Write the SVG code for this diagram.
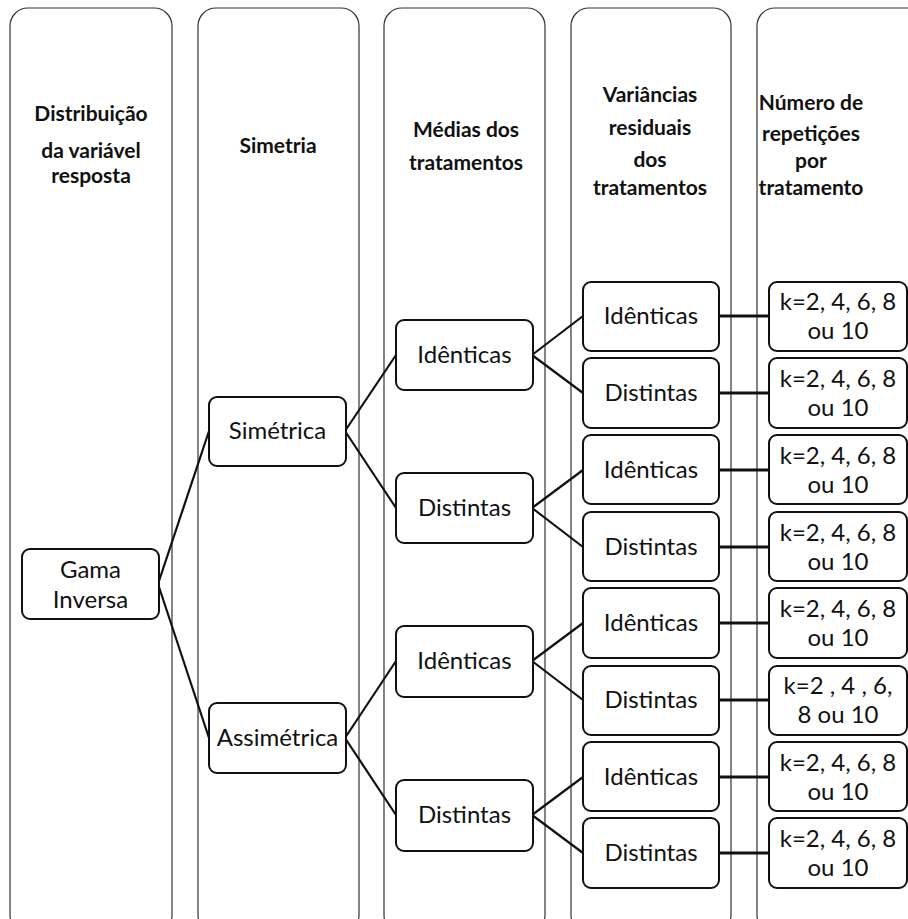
<svg xmlns="http://www.w3.org/2000/svg" width="908" height="919" viewBox="0 0 908 919">
<style>
.col{fill:#fff;stroke:#333;stroke-width:1.2}
.box{fill:#fff;stroke:#111;stroke-width:2}
.t{font-family:Lato,"Liberation Sans",sans-serif;font-size:24px;fill:#111;text-anchor:middle}
.h{font-family:Lato,"Liberation Sans",sans-serif;font-size:21px;font-weight:bold;fill:#111;text-anchor:middle}
.c{stroke:#111;stroke-width:2.2;fill:none}
.k{stroke:#111;stroke-width:3.2;fill:none}
</style>
<rect width="908" height="919" fill="#fff"/>
<g id="columns">
<rect class="col" x="10" y="8" width="162" height="925" rx="18"/>
<rect class="col" x="198" y="8" width="161" height="925" rx="18"/>
<rect class="col" x="384" y="8" width="161" height="925" rx="18"/>
<rect class="col" x="571" y="8" width="160" height="925" rx="18"/>
<rect class="col" x="757" y="8" width="170" height="925" rx="18"/>
</g>
<g id="headers">
<text class="h" x="91" y="121">Distribuição</text>
<text class="h" x="91" y="158">da variável</text>
<text class="h" x="91" y="183">resposta</text>
<text class="h" x="278" y="153">Simetria</text>
<text class="h" x="466" y="137">Médias dos</text>
<text class="h" x="466" y="170">tratamentos</text>
<text class="h" x="650" y="102">Variâncias</text>
<text class="h" x="650" y="135">residuais</text>
<text class="h" x="650" y="167">dos</text>
<text class="h" x="650" y="195">tratamentos</text>
<text class="h" x="811" y="110">Número de</text>
<text class="h" x="811" y="141">repetições</text>
<text class="h" x="811" y="168">por</text>
<text class="h" x="811" y="195">tratamento</text>
</g>
<g id="connectors">
<line class="c" x1="158" y1="584" x2="209" y2="431"/>
<line class="c" x1="158" y1="584" x2="209" y2="738"/>
<line class="c" x1="345" y1="431" x2="396" y2="355"/>
<line class="c" x1="345" y1="431" x2="396" y2="508"/>
<line class="c" x1="345" y1="738" x2="396" y2="661"/>
<line class="c" x1="345" y1="738" x2="396" y2="815"/>
<line class="c" x1="532" y1="355" x2="583" y2="316"/>
<line class="c" x1="532" y1="355" x2="583" y2="393"/>
<line class="c" x1="532" y1="508" x2="583" y2="470"/>
<line class="c" x1="532" y1="508" x2="583" y2="547"/>
<line class="c" x1="532" y1="661" x2="583" y2="623"/>
<line class="c" x1="532" y1="661" x2="583" y2="700"/>
<line class="c" x1="532" y1="815" x2="583" y2="777"/>
<line class="c" x1="532" y1="815" x2="583" y2="853"/>
<line class="k" x1="719" y1="316" x2="769" y2="316"/>
<line class="k" x1="719" y1="393" x2="769" y2="393"/>
<line class="k" x1="719" y1="470" x2="769" y2="470"/>
<line class="k" x1="719" y1="547" x2="769" y2="547"/>
<line class="k" x1="719" y1="623" x2="769" y2="623"/>
<line class="k" x1="719" y1="700" x2="769" y2="700"/>
<line class="k" x1="719" y1="777" x2="769" y2="777"/>
<line class="k" x1="719" y1="853" x2="769" y2="853"/>
</g>
<g id="n-gama"><rect class="box" x="22" y="549" width="137" height="70" rx="8"/><text class="t" x="90.5" y="578">Gama</text><text class="t" x="90.5" y="608">Inversa</text></g>
<g id="n-sim"><rect class="box" x="209" y="397" width="137" height="69" rx="8"/><text class="t" x="277.5" y="439">Simétrica</text></g>
<g id="n-assim"><rect class="box" x="209" y="703" width="137" height="70" rx="8"/><text class="t" x="277.5" y="746">Assimétrica</text></g>
<g id="n-m1"><rect class="box" x="396" y="320" width="137" height="70" rx="8"/><text class="t" x="464.5" y="363">Idênticas</text></g>
<g id="n-m2"><rect class="box" x="396" y="473" width="137" height="70" rx="8"/><text class="t" x="464.5" y="516">Distintas</text></g>
<g id="n-m3"><rect class="box" x="396" y="626" width="137" height="71" rx="8"/><text class="t" x="464.5" y="669">Idênticas</text></g>
<g id="n-m4"><rect class="box" x="396" y="780" width="137" height="71" rx="8"/><text class="t" x="464.5" y="823">Distintas</text></g>
<g id="n-v1"><rect class="box" x="583" y="282" width="136" height="69" rx="8"/><text class="t" x="651" y="324">Idênticas</text></g>
<g id="n-v2"><rect class="box" x="583" y="358" width="136" height="70" rx="8"/><text class="t" x="651" y="401">Distintas</text></g>
<g id="n-v3"><rect class="box" x="583" y="435" width="136" height="69" rx="8"/><text class="t" x="651" y="478">Idênticas</text></g>
<g id="n-v4"><rect class="box" x="583" y="512" width="136" height="69" rx="8"/><text class="t" x="651" y="555">Distintas</text></g>
<g id="n-v5"><rect class="box" x="583" y="588" width="136" height="70" rx="8"/><text class="t" x="651" y="631">Idênticas</text></g>
<g id="n-v6"><rect class="box" x="583" y="666" width="136" height="69" rx="8"/><text class="t" x="651" y="708">Distintas</text></g>
<g id="n-v7"><rect class="box" x="583" y="742" width="136" height="69" rx="8"/><text class="t" x="651" y="785">Idênticas</text></g>
<g id="n-v8"><rect class="box" x="583" y="818" width="136" height="70" rx="8"/><text class="t" x="651" y="861">Distintas</text></g>
<g id="n-k1"><rect class="box" x="769" y="282" width="138" height="69" rx="8"/><text class="t" x="838" y="310">k=2, 4, 6, 8</text><text class="t" x="838" y="339">ou 10</text></g>
<g id="n-k2"><rect class="box" x="769" y="358" width="138" height="70" rx="8"/><text class="t" x="838" y="387">k=2, 4, 6, 8</text><text class="t" x="838" y="416">ou 10</text></g>
<g id="n-k3"><rect class="box" x="769" y="435" width="138" height="69" rx="8"/><text class="t" x="838" y="464">k=2, 4, 6, 8</text><text class="t" x="838" y="493">ou 10</text></g>
<g id="n-k4"><rect class="box" x="769" y="512" width="138" height="69" rx="8"/><text class="t" x="838" y="541">k=2, 4, 6, 8</text><text class="t" x="838" y="570">ou 10</text></g>
<g id="n-k5"><rect class="box" x="769" y="588" width="138" height="70" rx="8"/><text class="t" x="838" y="617">k=2, 4, 6, 8</text><text class="t" x="838" y="646">ou 10</text></g>
<g id="n-k6"><rect class="box" x="769" y="666" width="138" height="69" rx="8"/><text class="t" x="838" y="694">k=2 , 4 , 6,</text><text class="t" x="838" y="723">8 ou 10</text></g>
<g id="n-k7"><rect class="box" x="769" y="742" width="138" height="69" rx="8"/><text class="t" x="838" y="771">k=2, 4, 6, 8</text><text class="t" x="838" y="800">ou 10</text></g>
<g id="n-k8"><rect class="box" x="769" y="818" width="138" height="70" rx="8"/><text class="t" x="838" y="847">k=2, 4, 6, 8</text><text class="t" x="838" y="876">ou 10</text></g>
</svg>
